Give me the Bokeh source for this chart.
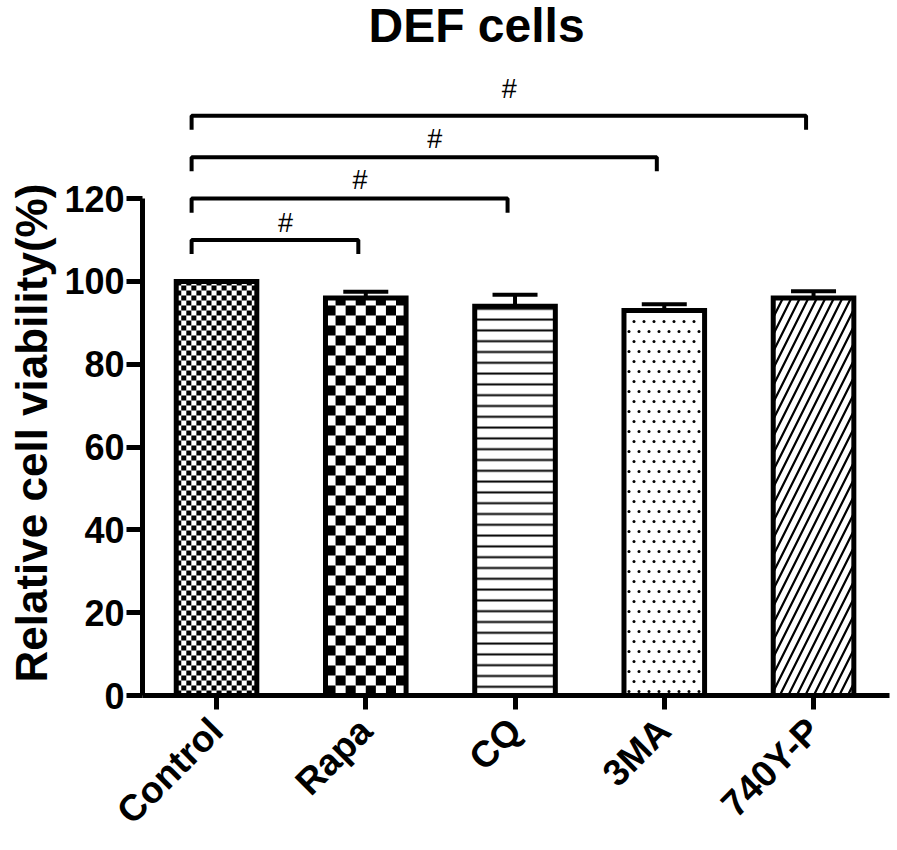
import numpy as np
from bokeh.plotting import figure
from bokeh.models import Range1d, FixedTicker, ColumnDataSource, Whisker, TeeHead, Label, Title
from bokeh.core.properties import value
from bokeh.embed import file_html
from bokeh.resources import INLINE

# ---------------- data ----------------
categories = ["Control", "Rapa", "CQ", "3MA", "740Y-P"]
viability = [100, 96, 94, 93, 96]
errors = [0, 1.5, 2.8, 1.5, 1.6]
y_ticks = [0, 20, 40, 60, 80, 100, 120]
comparisons = [1, 2, 3, 4]          # each compared with Control (index 0)
bracket_heights = [110, 120, 130, 140]
bracket_marks = ["#", "#", "#", "#"]
title_text = "DEF cells"
y_label = "Relative cell viability(%)"

# ---------------- styles ----------------
hatch_patterns = [" ", " ", "horizontal_line", " ", "right_diagonal_line"]
hatch_scales = [10, 10, 10.8, 10, 17]
hatch_weights = [1, 1, 2, 1, 2.2]
checker_cell_px = {0: 5, 1: 10}     # checkerboard cell size for Control / Rapa
dot_bar = 3                         # stippled bar (3MA)
dot_step_px = 10
mark_offsets = [4.0, 4.6, 4.4, 6.5]

FONT = "Liberation Sans"
W, H = 893, 850
BL, BR, BT, BB = 142, 4, 0, 155
X0, X1 = -0.496, 4.509
Y0, Y1 = 0, 167.83
BAR_W = 0.54

p = figure(width=W, height=H, x_range=Range1d(X0, X1), y_range=Range1d(Y0, Y1),
           output_backend="svg", toolbar_location=None,
           min_border_left=BL, min_border_right=BR, min_border_top=BT, min_border_bottom=BB)
p.outline_line_color = None
p.grid.visible = False
p.background_fill_color = "white"

px_x = (W - BL - BR) / (X1 - X0)
px_y = (H - BT - BB) / (Y1 - Y0)

idx = list(range(len(categories)))
src = ColumnDataSource(dict(x=idx, top=viability, hp=hatch_patterns, hs=hatch_scales, hw=hatch_weights))

# bar fill + hatch
p.vbar(x="x", top="top", width=BAR_W, bottom=0, source=src, fill_color="white", line_color=None,
       hatch_pattern="hp", hatch_scale="hs", hatch_weight="hw", hatch_color="black")

# checkerboard textures
L, R, B, T = [], [], [], []
for i, cpx in checker_cell_px.items():
    v = viability[i]
    nx = max(1, int(round(BAR_W * px_x / cpx)))
    dx = BAR_W / nx
    dy = cpx / px_y
    ny = int(np.ceil(v / dy))
    for r in range(ny):
        for c in range(nx):
            if (r + c) % 2 == 0:
                L.append(i - BAR_W / 2 + c * dx)
                R.append(i - BAR_W / 2 + (c + 1) * dx)
                B.append(r * dy)
                T.append(min(v, (r + 1) * dy))
p.quad(left=L, right=R, bottom=B, top=T, fill_color="black", line_color=None)

# stipple texture (staggered dots)
dxs = dot_step_px / px_x
dys = dot_step_px / px_y
v = viability[dot_bar]
left_in = dot_bar - BAR_W / 2 + 4 / px_x
right_in = dot_bar + BAR_W / 2 - 4 / px_x
DX, DY = [], []
r = 0
yy = v - 11 / px_y
while yy > 3 / px_y:
    xx = left_in + (0.5 * dxs if r % 2 == 0 else 0.0) + 1 / px_x
    while xx < right_in:
        DX.append(xx)
        DY.append(yy)
        xx += dxs
    yy -= dys
    r += 1
p.scatter(DX, DY, marker="circle", size=3, fill_color="black", line_color=None)

# bar outlines
p.vbar(x="x", top="top", width=BAR_W, bottom=0, source=src, fill_color=None,
       line_color="black", line_width=5, line_join="miter")

# error bars (upper only)
wsrc = ColumnDataSource(dict(x=idx[1:], lower=viability[1:],
                             upper=[v + e for v, e in zip(viability[1:], errors[1:])]))
p.add_layout(Whisker(base="x", lower="lower", upper="upper", source=wsrc,
                     line_width=4, line_color="black",
                     upper_head=TeeHead(size=45, line_width=4, line_color="black"),
                     lower_head=None))

# significance brackets
tick_len = 3.4
xs, ys, mx, my = [], [], [], []
for j, h, o in zip(comparisons, bracket_heights, mark_offsets):
    l, r = 0 - 0.167, j - 0.05
    xs.append([l, l, r, r])
    ys.append([h - tick_len, h, h, h - tick_len])
    mx.append((l + r) / 2 + 0.07)
    my.append(h + o)
p.multi_line(xs, ys, line_width=4, line_color="black")
p.text(x=mx, y=my, text=bracket_marks, text_font=value(FONT), text_font_size="27px",
       text_align="center", text_baseline="alphabetic", text_color="black")

# axes
yax = p.yaxis[0]
yax.bounds = (0, 120)
yax.ticker = FixedTicker(ticks=y_ticks)
yax.major_label_text_font = FONT
yax.major_label_text_font_size = "36px"
yax.major_label_text_font_style = "bold"
yax.major_label_text_color = "black"
yax.axis_line_width = 5
yax.axis_line_color = "black"
yax.major_tick_line_width = 5
yax.major_tick_line_color = "black"
yax.major_tick_out = 16
yax.major_tick_in = 0
yax.minor_tick_out = 0
yax.minor_tick_in = 0
yax.major_label_standoff = 2

xax = p.xaxis[0]
xax.ticker = FixedTicker(ticks=idx)
xax.major_label_overrides = {i: c for i, c in zip(idx, categories)}
xax.major_label_orientation = np.pi / 4
xax.major_label_text_font = FONT
xax.major_label_text_font_size = "37px"
xax.major_label_text_font_style = "bold"
xax.major_label_text_color = "black"
xax.axis_line_width = 5
xax.axis_line_color = "black"
xax.major_tick_line_width = 5
xax.major_tick_line_color = "black"
xax.major_tick_out = 14
xax.major_tick_in = 0
xax.minor_tick_out = 0
xax.minor_tick_in = 0
xax.major_label_standoff = 15

# y-axis label as a left-side title
p.add_layout(Title(text=y_label, align="left", offset=13, vertical_align="top",
                   text_font=FONT, text_font_size="44px", text_font_style="bold",
                   text_color="black", standoff=8), "left")

# chart title
p.add_layout(Label(x=(476 - 216) / px_x, y=161.8, text=title_text, text_font=FONT,
                   text_font_size="48px", text_font_style="bold", text_align="center",
                   text_baseline="alphabetic", text_color="black"))

open("out.html", "w").write(file_html(p, INLINE))
